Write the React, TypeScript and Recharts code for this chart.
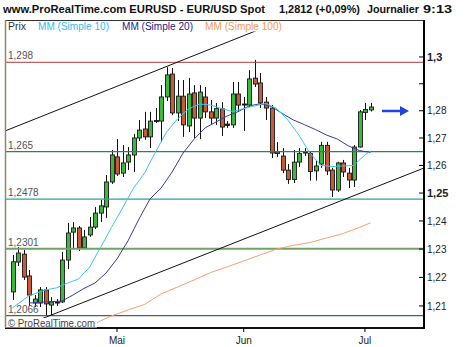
import React from 'react';
import { ComposedChart, Bar, Line, XAxis, YAxis, ReferenceLine } from 'recharts';

// ---- data (EUR/USD daily, April -> early July) ----
const opens = [1.2149,1.2254,1.2282,1.2205,1.2110,1.2110,1.2156,1.2103,1.2110,1.2114,1.2261,1.2360,1.2375,1.2304,1.2350,1.2378,1.2428,1.2450,1.2540,1.2631,1.2572,1.2612,1.2638,1.2700,1.2733,1.2704,1.2760,1.2762,1.2851,1.2936,1.2792,1.2854,1.2744,1.2866,1.2773,1.2851,1.2796,1.2773,1.2807,1.2751,1.2748,1.2862,1.2825,1.2821,1.2921,1.2903,1.2832,1.2810,1.2649,1.2634,1.2583,1.2549,1.2612,1.2645,1.2643,1.2580,1.2605,1.2673,1.2583,1.2511,1.2609,1.2572,1.2547,1.2667,1.2794,1.2803];
const highs = [1.2279,1.2307,1.2297,1.2226,1.2138,1.2166,1.2166,1.2131,1.2124,1.2290,1.2393,1.2396,1.2382,1.2368,1.2414,1.2450,1.2475,1.2565,1.2656,1.2696,1.2674,1.2667,1.2715,1.2766,1.2796,1.2796,1.2810,1.2895,1.2962,1.2959,1.2914,1.2914,1.2921,1.2895,1.2895,1.2888,1.2840,1.2829,1.2832,1.2762,1.2907,1.2907,1.2851,1.2951,1.2989,1.2940,1.2851,1.2821,1.2685,1.2663,1.2605,1.2656,1.2663,1.2663,1.2650,1.2616,1.2686,1.2686,1.2591,1.2613,1.2620,1.2591,1.2674,1.2803,1.2829,1.2829];
const lows = [1.2121,1.2240,1.2191,1.2100,1.2096,1.2096,1.2065,1.2068,1.2100,1.2110,1.2229,1.2300,1.2293,1.2300,1.2343,1.2371,1.2396,1.2411,1.2533,1.2562,1.2558,1.2583,1.2576,1.2689,1.2693,1.2663,1.2755,1.2685,1.2836,1.2784,1.2762,1.2704,1.2722,1.2700,1.2696,1.2773,1.2751,1.2748,1.2707,1.2737,1.2737,1.2796,1.2726,1.2814,1.2888,1.2810,1.2766,1.2627,1.2631,1.2572,1.2533,1.2536,1.2594,1.2634,1.2545,1.2545,1.2591,1.2565,1.2486,1.2504,1.2558,1.2518,1.2522,1.2665,1.2766,1.2797];
const closes = [1.2255,1.2286,1.2201,1.2138,1.2124,1.2156,1.2107,1.2114,1.2114,1.2261,1.2357,1.2375,1.2304,1.2343,1.2378,1.2428,1.2454,1.2540,1.2638,1.2569,1.2609,1.2638,1.2700,1.2729,1.2704,1.2762,1.2764,1.2851,1.2933,1.2792,1.2854,1.2748,1.2862,1.2773,1.2869,1.2796,1.2773,1.2808,1.2740,1.2746,1.2862,1.2821,1.2821,1.2918,1.2899,1.2829,1.2810,1.2645,1.2643,1.2583,1.2549,1.2612,1.2643,1.2649,1.2578,1.2598,1.2673,1.2580,1.2511,1.2609,1.2576,1.2547,1.2667,1.2796,1.2805,1.2814];

// moving averages: [candle index, value]
const ma10Points = [[0,1.2093],[3,1.2135],[6,1.2156],[8,1.2163],[10,1.2180],[12,1.2194],[14,1.2235],[16,1.2305],[18,1.2377],[20,1.2446],[22,1.2518],[24,1.2572],[26,1.2649],[28,1.2722],[30,1.2770],[32,1.2807],[34,1.2825],[36,1.2821],[38,1.2808],[40,1.2797],[42,1.2808],[44,1.2818],[46,1.2827],[48,1.2808],[50,1.2766],[52,1.2711],[54,1.2645],[56,1.2600],[58,1.2596],[60,1.2598],[62,1.2600],[63,1.2620],[64,1.2638],[65,1.2652]];
const ma20Points = [[3,1.2110],[6,1.2114],[9,1.2117],[11,1.2138],[13,1.2161],[15,1.2180],[17,1.2215],[19,1.2265],[21,1.2329],[23,1.2407],[25,1.2479],[27,1.2518],[29,1.2576],[31,1.2645],[33,1.2696],[35,1.2737],[37,1.2759],[39,1.2781],[41,1.2797],[43,1.2818],[45,1.2826],[47,1.2816],[49,1.2790],[51,1.2766],[53,1.2749],[55,1.2731],[57,1.2711],[59,1.2696],[61,1.2671],[63,1.2654],[65,1.2647]];
const ma100Points = [[13,1.2016],[16,1.2048],[18,1.2065],[21,1.2086],[24,1.2105],[27,1.2142],[30,1.2166],[33,1.2191],[36,1.2217],[39,1.2237],[42,1.2258],[45,1.2279],[48,1.2300],[51,1.2313],[54,1.2323],[57,1.2339],[60,1.2355],[63,1.2377],[65,1.2393]];

const monthTicks = [19, 42, 64];
const monthLabels = ['Mai', 'Jun', 'Jul'];
const priceTicks = [1.21, 1.22, 1.23, 1.24, 1.25, 1.26, 1.27, 1.28, 1.29, 1.3];
const priceTickLabels = ['1,21', '1,22', '1,23', '1,24', '1,25', '1,26', '1,27', '1,28', '', '1,3'];
const boldTicks = ['1,3', '1,25'];
const levels = [1.298, 1.265, 1.2478, 1.2301, 1.2066];
const levelLabels = ['1,298', '1,265', '1,2478', '1,2301', '1,2066'];
const upperTrend = [{ i: -1.325, p: 1.27256 }, { i: 44.95, p: 1.31045 }];
const lowerTrend = [{ i: -1.325, p: 1.2005 }, { i: 74.72, p: 1.25906 }];
const xDomain = [-1.325, 74.72];
const yDomain = [1.20233, 1.30976];

// ---- styles ----
const FONT = "Arial, 'Liberation Sans', Helvetica, sans-serif";
const GREEN = '#3cb83c';
const RED = '#c85a3a';
const levelColors = ['#a83c3c', '#2a8060', '#28a890', '#72a26a', '#3c6e44'];
const levelWidths = [1, 1.3, 1.3, 2, 1.3];

const toMap = (pts: number[][]) => {
  const m: Record<number, number> = {};
  pts.forEach(([k, v]) => { m[k] = v; });
  return m;
};
const m10 = toMap(ma10Points);
const m20 = toMap(ma20Points);
const m100 = toMap(ma100Points);

const data = opens.map((o, i) => ({
  i,
  open: o,
  high: highs[i],
  low: lows[i],
  close: closes[i],
  range: [lows[i], highs[i]],
  ma10: m10[i] ?? null,
  ma20: m20[i] ?? null,
  ma100: m100[i] ?? null,
}));

const Candle = (props: any) => {
  const { x, y, width, height } = props;
  const d = props.payload ?? props;
  if (x == null || y == null || d == null) return null;
  const top = Math.min(y, y + height);
  const bottom = Math.max(y, y + height);
  const lh = Math.log(d.high);
  const ll = Math.log(d.low);
  const span = lh - ll || 1;
  const yOf = (v: number) => top + (bottom - top) * (lh - Math.log(v)) / span;
  const yo = yOf(d.open);
  const yc = yOf(d.close);
  const r = Math.round(x + width / 2);
  const bTop = Math.min(yo, yc);
  const bh = Math.max(Math.abs(yo - yc), 1);
  const doji = Math.abs(yo - yc) < 1.6;
  const up = d.close >= d.open;
  return (
    <g>
      <line x1={r + 0.5} x2={r + 0.5} y1={top} y2={bottom} stroke="#111" strokeWidth={1} />
      <rect x={r - 1.5} y={bTop} width={4} height={bh} fill={doji ? '#222' : up ? GREEN : RED} stroke="#1a1a1a" strokeWidth={0.9} />
    </g>
  );
};

const YTick = (props: any) => {
  const { x, y, index } = props;
  const label = priceTickLabels[index] ?? '';
  const bold = boldTicks.includes(label);
  return (
    <g>
      <line x1={x - 5} x2={x} y1={y} y2={y} stroke="#000" strokeWidth={1} />
      <text x={x + 3} y={y} dy={bold ? 4 : 3.6} fontSize={bold ? 11 : 10} fontWeight={bold ? 'bold' : 'normal'} fill="#222" fontFamily={FONT}>
        {label}
      </text>
    </g>
  );
};

export default function App() {
  return (
    <div style={{ position: 'absolute', left: 0, top: 0, width: 469, height: 347, background: '#fff', fontFamily: FONT }}>
      <ComposedChart width={469} height={347} data={data} margin={{ top: 31, right: 0, bottom: 0, left: 5 }}>
        <XAxis
          dataKey="i"
          type="number"
          domain={xDomain}
          allowDataOverflow
          ticks={monthTicks}
          interval={0}
          tickFormatter={(v: number) => monthLabels[monthTicks.indexOf(v)] ?? ''}
          height={19}
          tickSize={4}
          tickMargin={5}
          tick={{ fontSize: 10, fill: '#222' }}
          tickLine={{ stroke: '#000' }}
          axisLine={{ stroke: '#111', strokeWidth: 2 }}
        />
        <YAxis
          orientation="right"
          type="number"
          scale="log"
          domain={yDomain}
          allowDataOverflow
          ticks={priceTicks}
          interval={0}
          width={45}
          tickSize={0}
          tickMargin={0}
          tickLine={false}
          tick={<YTick />}
          axisLine={{ stroke: '#000', strokeWidth: 2 }}
        />
        {levels.map((lv, k) => (
          <ReferenceLine
            key={'lv' + k}
            y={lv}
            stroke={levelColors[k]}
            strokeWidth={levelWidths[k]}
            ifOverflow="hidden"
            label={{ value: levelLabels[k], position: 'insideBottomLeft', offset: 3, fill: '#555', fontSize: 10 }}
          />
        ))}
        <ReferenceLine
          segment={[{ x: upperTrend[0].i, y: upperTrend[0].p }, { x: upperTrend[1].i, y: upperTrend[1].p }]}
          stroke="#111"
          strokeWidth={1}
          ifOverflow="hidden"
        />
        <ReferenceLine
          segment={[{ x: lowerTrend[0].i, y: lowerTrend[0].p }, { x: lowerTrend[1].i, y: lowerTrend[1].p }]}
          stroke="#111"
          strokeWidth={1}
          ifOverflow="hidden"
        />
        <Line dataKey="ma100" stroke="#f4a070" strokeWidth={1} dot={false} connectNulls isAnimationActive={false} />
        <Line dataKey="ma20" stroke="#3a3a9e" strokeWidth={1} dot={false} connectNulls isAnimationActive={false} />
        <Line dataKey="ma10" stroke="#40c4f0" strokeWidth={1} dot={false} connectNulls isAnimationActive={false} />
        <Bar dataKey="range" barSize={4} shape={<Candle />} isAnimationActive={false} />
      </ComposedChart>
      <svg width={469} height={347} style={{ position: 'absolute', left: 0, top: 0, pointerEvents: 'none' }} fontFamily={FONT}>
        {/* title */}
        <g fontWeight="bold" fontSize={11.5} fill="#111">
          <text x={3} y={12.5} textLength={262} lengthAdjust="spacingAndGlyphs">www.ProRealTime.com EURUSD - EUR/USD Spot</text>
          <text x={279} y={12.5} textLength={81} lengthAdjust="spacingAndGlyphs">1,2812 (+0,09%)</text>
          <text x={367} y={12.5} textLength={52} lengthAdjust="spacingAndGlyphs">Journalier</text>
          <text x={423} y={12.5} textLength={29} lengthAdjust="spacingAndGlyphs">9:13</text>
        </g>
        {/* legend strip */}
        <rect x={6} y={21} width={417} height={10.5} fill="#fff" />
        <g fontSize={10}>
          <text x={8} y={29.5} fill="#333" textLength={18} lengthAdjust="spacingAndGlyphs">Prix</text>
          <text x={38} y={29.5} fill="#33bcef" textLength={71} lengthAdjust="spacingAndGlyphs">MM (Simple 10)</text>
          <text x={122} y={29.5} fill="#23238f" textLength={71} lengthAdjust="spacingAndGlyphs">MM (Simple 20)</text>
          <text x={205} y={29.5} fill="#f79a55" textLength={77} lengthAdjust="spacingAndGlyphs">MM (Simple 100)</text>
        </g>
        {/* copyright */}
        <rect x={6} y={318} width={91} height={9.5} fill="#fff" />
        <text x={8} y={327} fontSize={10} fill="#444" textLength={87} lengthAdjust="spacingAndGlyphs">© ProRealTime.com</text>
        {/* frame */}
        <line x1={5} x2={424} y1={20.5} y2={20.5} stroke="#333" strokeWidth={1} />
        <line x1={5.5} x2={5.5} y1={20} y2={328} stroke="#8a8a70" strokeWidth={1.5} />
        <line x1={424} x2={424} y1={20} y2={329} stroke="#000" strokeWidth={2} />
        {/* arrow */}
        <line x1={382} x2={402} y1={111} y2={111} stroke="#2244dd" strokeWidth={2.5} />
        <polygon points="400,106 409,111 400,116" fill="#2244dd" />
      </svg>
    </div>
  );
}
